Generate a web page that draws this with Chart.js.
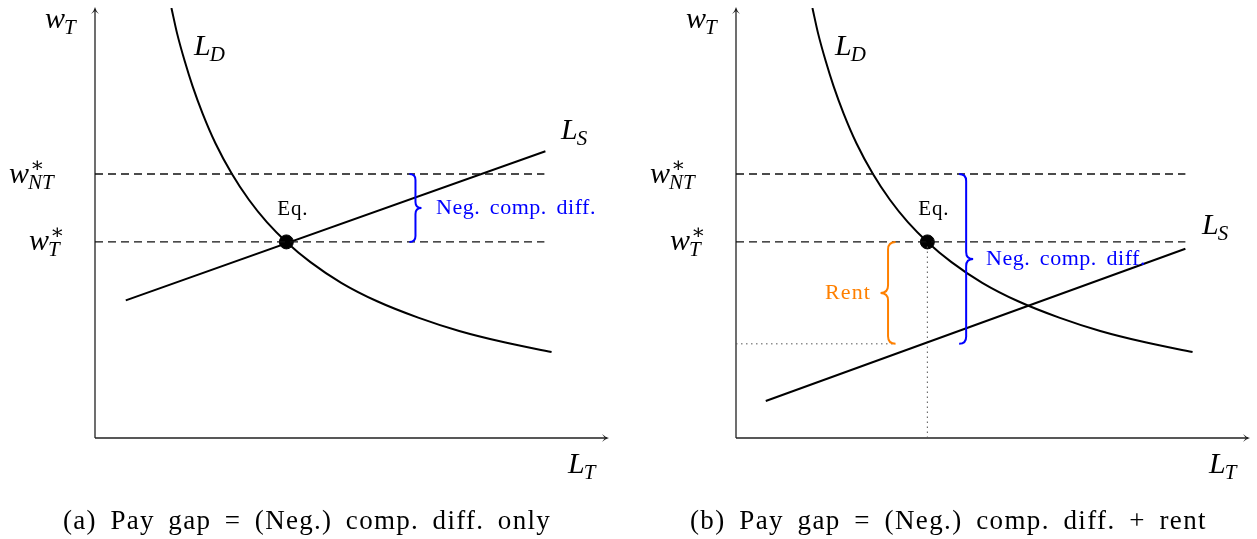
<!DOCTYPE html>
<html>
<head>
<meta charset="utf-8">
<script src="https://cdn.jsdelivr.net/npm/chart.js@4.4.1/dist/chart.umd.min.js"></script>
<style>
  html, body { margin: 0; padding: 0; background: #fff; }
  body { width: 1257px; height: 539px; position: relative; overflow: hidden; }
  .panel { position: absolute; top: 0; width: 616px; height: 539px; }
  #panelA { left: 0; }
  #panelB { left: 641px; }
</style>
</head>
<body>
<div class="panel" id="panelA"><canvas id="chartA" width="616" height="539"></canvas></div>
<div class="panel" id="panelB"><canvas id="chartB" width="616" height="539"></canvas></div>
<script>
// =========================
// data (axis units 0..10)
// =========================
const demandX = [1.49, 1.6, 1.75, 1.9, 2.1, 2.35, 2.67, 3.0, 3.35, 3.73, 4.2, 4.8, 5.5, 6.3, 7.1, 8.0, 8.9];
const demandY = [10.0, 9.41, 8.76, 8.19, 7.54, 6.85, 6.14, 5.54, 5.02, 4.56, 4.09, 3.61, 3.18, 2.80, 2.49, 2.22, 2.0];

const supplyAX = [0.60, 8.78];
const supplyAY = [3.20, 6.67];
const supplyBX = [0.58, 8.76];
const supplyBY = [0.86, 4.40];

const wageNT = 6.14;
const wageT = 4.56;
const eqL = 3.73;
const rentFloor = 2.19;
const dashEnd = 8.76;

const captions = [
  "(a) Pay gap = (Neg.) comp. diff. only",
  "(b) Pay gap = (Neg.) comp. diff. + rent",
];

const SERIF = '"Liberation Serif", "DejaVu Serif", serif';
const BLUE = "#0000ff";
const ORANGE = "#ff8000";

function pts(xs, ys) {
  return xs.map((x, i) => ({ x, y: ys[i] }));
}

// =========================
// text helpers
// =========================
function drawMath(ctx, x, y, base, sub, sup, size) {
  ctx.fillStyle = "#000";
  ctx.textAlign = "left";
  ctx.textBaseline = "alphabetic";
  ctx.font = `italic ${size}px ${SERIF}`;
  ctx.fillText(base, x, y);
  const w = ctx.measureText(base).width;
  const small = Math.round(size * 0.7);
  if (sup) {
    ctx.font = `${small}px ${SERIF}`;
    ctx.fillText(sup, x + w + 1, y - size * 0.36);
  }
  if (sub) {
    ctx.font = `italic ${small}px ${SERIF}`;
    ctx.fillText(sub, x + w - 1, y + size * 0.2);
  }
}

// 폭 맞추기: 글자 간격 일부 + 단어 간격
function fillFitted(ctx, text, left, y, width) {
  ctx.textAlign = "left";
  const canSpace = "letterSpacing" in ctx && "wordSpacing" in ctx;
  if (canSpace) {
    ctx.letterSpacing = "0px";
    ctx.wordSpacing = "0px";
  }
  const natural = ctx.measureText(text).width;
  const extra = width - natural;
  if (canSpace && extra > 0) {
    const spaces = (text.match(/ /g) || []).length;
    const letterPart = spaces ? extra * 0.55 : extra;
    ctx.letterSpacing = `${letterPart / text.length}px`;
    if (spaces) ctx.wordSpacing = `${(extra - letterPart) / spaces}px`;
  }
  ctx.fillText(text, left, y);
  if (canSpace) {
    ctx.letterSpacing = "0px";
    ctx.wordSpacing = "0px";
  }
}

function drawBrace(ctx, x0, yTop, yBot, amp, color) {
  const yMid = (yTop + yBot) / 2;
  const h = amp / 2;
  const r = Math.abs(amp) / 2;
  ctx.save();
  ctx.strokeStyle = color;
  ctx.lineWidth = 2;
  ctx.beginPath();
  ctx.moveTo(x0, yTop);
  ctx.quadraticCurveTo(x0 + h, yTop, x0 + h, yTop + r);
  ctx.lineTo(x0 + h, yMid - r);
  ctx.quadraticCurveTo(x0 + h, yMid, x0 + amp, yMid);
  ctx.quadraticCurveTo(x0 + h, yMid, x0 + h, yMid + r);
  ctx.lineTo(x0 + h, yBot - r);
  ctx.quadraticCurveTo(x0 + h, yBot, x0, yBot);
  ctx.stroke();
  ctx.restore();
}

// =========================
// axes with arrows
// =========================
const axesPlugin = {
  id: "axesArrows",
  beforeDatasetsDraw(chart) {
    const { ctx, scales } = chart;
    const x0 = scales.x.getPixelForValue(0);
    const y0 = scales.y.getPixelForValue(0);
    const xEnd = scales.x.getPixelForValue(10);
    const yEnd = scales.y.getPixelForValue(10);
    ctx.save();
    ctx.strokeStyle = "#222";
    ctx.lineWidth = 1.3;
    ctx.beginPath();
    ctx.moveTo(x0, y0);
    ctx.lineTo(xEnd - 1, y0);
    ctx.moveTo(x0, y0);
    ctx.lineTo(x0, yEnd + 1);
    ctx.stroke();
    ctx.fillStyle = "#222";
    ctx.beginPath();
    ctx.moveTo(xEnd + 1, y0);
    ctx.quadraticCurveTo(xEnd - 3, y0 - 1, xEnd - 6, y0 - 4);
    ctx.lineTo(xEnd - 3, y0);
    ctx.lineTo(xEnd - 6, y0 + 4);
    ctx.quadraticCurveTo(xEnd - 3, y0 + 1, xEnd + 1, y0);
    ctx.fill();
    ctx.beginPath();
    ctx.moveTo(x0, yEnd - 1);
    ctx.quadraticCurveTo(x0 - 1, yEnd + 3, x0 - 4, yEnd + 6);
    ctx.lineTo(x0, yEnd + 3);
    ctx.lineTo(x0 + 4, yEnd + 6);
    ctx.quadraticCurveTo(x0 + 1, yEnd + 3, x0, yEnd - 1);
    ctx.fill();
    ctx.restore();
  },
};

// =========================
// labels, braces, caption
// =========================
function makeLabelPlugin(panel) {
  return {
    id: "labels" + panel,
    afterDraw(chart) {
      const { ctx, scales } = chart;
      const px = (v) => scales.x.getPixelForValue(v);
      const py = (v) => scales.y.getPixelForValue(v);
      ctx.save();

      drawMath(ctx, 45, 28, "w", "T", null, 30);
      drawMath(ctx, 9, 183, "w", "NT", "\u2217", 30);
      drawMath(ctx, 29, 250, "w", "T", "\u2217", 30);
      drawMath(ctx, 194, 55, "L", "D", null, 30);
      drawMath(ctx, 568, 473, "L", "T", null, 30);
      drawMath(ctx, 561, panel === "a" ? 139 : 234, "L", "S", null, 30);

      ctx.fillStyle = "#000";
      ctx.font = `21px ${SERIF}`;
      ctx.textBaseline = "alphabetic";
      fillFitted(ctx, "Eq.", px(eqL) - 9, py(wageT) - 27, 31);

      ctx.font = `22px ${SERIF}`;
      ctx.textBaseline = "middle";
      if (panel === "a") {
        drawBrace(ctx, px(6.13), py(wageNT), py(wageT), 12, BLUE);
        ctx.fillStyle = BLUE;
        fillFitted(ctx, "Neg. comp. diff.", 436, (py(wageNT) + py(wageT)) / 2, 160);
      } else {
        drawBrace(ctx, px(4.35), py(wageNT), py(rentFloor), 14, BLUE);
        ctx.fillStyle = BLUE;
        fillFitted(ctx, "Neg. comp. diff.", 345, (py(wageNT) + py(rentFloor)) / 2, 160);
        drawBrace(ctx, px(3.11), py(wageT), py(rentFloor), -15, ORANGE);
        ctx.fillStyle = ORANGE;
        fillFitted(ctx, "Rent", 184, (py(wageT) + py(rentFloor)) / 2, 46);
      }

      ctx.fillStyle = "#000";
      ctx.font = `27px ${SERIF}`;
      ctx.textBaseline = "alphabetic";
      if (panel === "a") {
        fillFitted(ctx, captions[0], 63, 529, 488);
      } else {
        fillFitted(ctx, captions[1], 49, 529, 517);
      }
      ctx.restore();
    },
  };
}

// =========================
// datasets
// =========================
function lineSet(data, extra = {}) {
  return Object.assign(
    {
      data,
      showLine: true,
      borderColor: "#000",
      borderWidth: 2,
      pointRadius: 0,
      fill: false,
    },
    extra,
  );
}

function buildDatasets(panel) {
  const dashed = { borderColor: "#111", borderWidth: 1.3, borderDash: [8, 5] };
  const dotted = { borderColor: "#555", borderWidth: 1, borderDash: [1.5, 3.5] };
  const sets = [
    lineSet(pts([0, dashEnd], [wageNT, wageNT]), dashed),
    lineSet(pts([0, dashEnd], [wageT, wageT]), dashed),
    lineSet(pts(demandX, demandY), { cubicInterpolationMode: "monotone" }),
  ];
  if (panel === "a") {
    sets.push(lineSet(pts(supplyAX, supplyAY)));
  } else {
    sets.push(lineSet(pts(supplyBX, supplyBY)));
    sets.push(lineSet(pts([eqL, eqL], [0, wageT]), dotted));
    sets.push(lineSet(pts([0, 3.11], [rentFloor, rentFloor]), dotted));
  }
  sets.push({
    data: pts([eqL], [wageT]),
    pointRadius: 7,
    pointBackgroundColor: "#000",
    pointBorderColor: "#000",
    showLine: false,
  });
  return sets;
}

function renderPanel(canvasId, panel) {
  const ctx = document.getElementById(canvasId).getContext("2d");
  new Chart(ctx, {
    type: "scatter",
    data: { datasets: buildDatasets(panel) },
    options: {
      responsive: false,
      animation: false,
      layout: { padding: { left: 95, right: 4, top: 8, bottom: 101 } },
      scales: {
        x: { type: "linear", min: 0, max: 10, display: false },
        y: { type: "linear", min: 0, max: 10, display: false },
      },
      plugins: {
        legend: { display: false },
        tooltip: { enabled: false },
      },
    },
    plugins: [axesPlugin, makeLabelPlugin(panel)],
  });
}

renderPanel("chartA", "a");
renderPanel("chartB", "b");
</script>
</body>
</html>
